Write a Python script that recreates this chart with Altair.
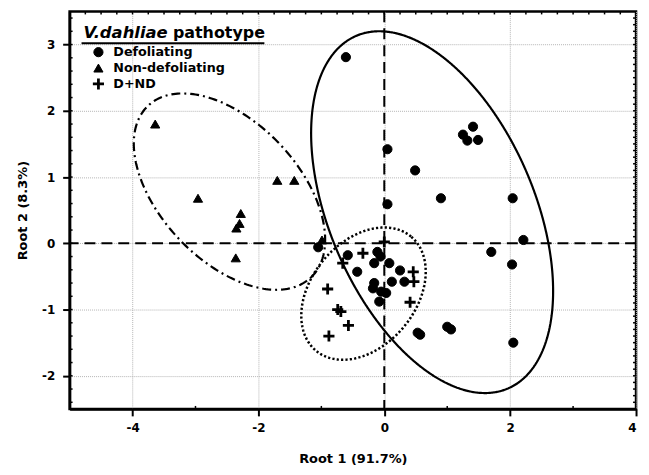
import altair as alt
import numpy as np
import pandas as pd

# ---------------- data ----------------
groups = ["Defoliating", "Non-defoliating", "D+ND"]

def_x = [-0.61, 0.05, 0.49, 0.05, 0.90, 1.41, 1.25, 1.32, 1.49, 2.04, 2.21, 1.70, 2.03, 2.05,
         0.53, 0.57, 1.00, 1.06, -1.05, -0.58, -0.43, -0.11, -0.06, -0.16, 0.08, 0.25, 0.32,
         0.12, -0.16, -0.18, -0.05, 0.03, -0.08]
def_y = [2.81, 1.42, 1.10, 0.59, 0.68, 1.76, 1.64, 1.55, 1.56, 0.68, 0.05, -0.13, -0.32, -1.50,
         -1.35, -1.38, -1.26, -1.30, -0.06, -0.18, -0.43, -0.13, -0.20, -0.30, -0.30, -0.41, -0.58,
         -0.58, -0.60, -0.68, -0.73, -0.75, -0.88]

nd_x = [-3.64, -2.96, -2.28, -2.30, -2.35, -2.36, -1.70, -1.43, -0.99]
nd_y = [1.80, 0.68, 0.45, 0.30, 0.23, -0.22, 0.95, 0.95, 0.05]

dnd_x = [0.00, -0.34, -0.66, 0.46, 0.47, 0.41, -0.90, -0.74, -0.69, -0.57, -0.88]
dnd_y = [0.02, -0.15, -0.30, -0.43, -0.58, -0.89, -0.69, -1.00, -1.03, -1.24, -1.40]

# confidence ellipses: centre x, centre y, semi-major, semi-minor, angle (deg)
ell_def = [0.76, 0.47, 3.05, 1.63, -66.7]
ell_nd = [-2.46, 0.78, 1.88, 1.10, -46.5]
ell_dnd = [-0.33, -0.76, 1.18, 0.83, 50.2]

x_ticks_major = [-4, -2, 0, 2, 4]
y_ticks_major = [-2, -1, 0, 1, 2, 3]
x_minor = [-3, -1, 1, 3]
y_minor = [round(v, 1) for v in np.arange(-2.4, 3.41, 0.2)]
x_top = [round(v, 2) for v in np.arange(-4.75, 4.0, 0.25)]
y_right = [round(v, 1) for v in np.arange(-2.4, 3.41, 0.1)]

X_DOMAIN = [-5, 4]
Y_DOMAIN = [-2.5, 3.5]
W, H = 570, 400

# ---------------- tables ----------------
solid = pd.concat([
    pd.DataFrame({"x": def_x, "y": def_y, "g": groups[0]}),
    pd.DataFrame({"x": nd_x, "y": nd_y, "g": groups[1]}),
], ignore_index=True)
plus = pd.DataFrame({"x": dnd_x, "y": dnd_y, "g": groups[2]})

K = (W / (X_DOMAIN[1] - X_DOMAIN[0])) / (H / (Y_DOMAIN[1] - Y_DOMAIN[0]))


def ellipse_df(p, n=241):
    cx, cy, a, b, ang = p
    t = np.linspace(0, 2 * np.pi, n)
    A = np.deg2rad(ang)
    x = cx + a * np.cos(t) * np.cos(A) - b * np.sin(t) * np.sin(A)
    y = cy + (a * np.cos(t) * np.sin(A) + b * np.sin(t) * np.cos(A)) * K
    return pd.DataFrame({"x": x, "y": y, "i": np.arange(n)})


xs = alt.Scale(domain=X_DOMAIN, nice=False, zero=False)
ys = alt.Scale(domain=Y_DOMAIN, nice=False, zero=False)

FONT = "DejaVu Sans"
PLUS = "M-1.4,0H1.4M0,-1.4V1.4"
LBL = "datum.value < 0 ? '-' + abs(datum.value) : '' + datum.value"
SYM_SIZE = 85
PLUS_SIZE = 64

x_axis = alt.Axis(values=x_ticks_major, title="Root 1 (91.7%)", tickSize=7, labelPadding=7,
                  titlePadding=19, grid=True, labelExpr=LBL)
y_axis = alt.Axis(values=y_ticks_major, title="Root 2 (8.3%)", tickSize=7, labelPadding=8,
                  titlePadding=12, grid=True, labelExpr=LBL)

pts_solid = alt.Chart(solid).mark_point(
    filled=True, fill="black", stroke="black", strokeWidth=1, opacity=1, size=SYM_SIZE
).encode(
    x=alt.X("x:Q", scale=xs, axis=x_axis),
    y=alt.Y("y:Q", scale=ys, axis=y_axis),
    shape=alt.Shape("g:N", scale=alt.Scale(domain=groups[:2], range=["circle", "triangle-up"]),
                    legend=None),
)
pts_plus = alt.Chart(plus).mark_point(
    shape=PLUS, filled=False, stroke="black", strokeWidth=2.8, opacity=1, size=PLUS_SIZE
).encode(x=alt.X("x:Q", scale=xs), y=alt.Y("y:Q", scale=ys))


def ell_layer(p, dash, width):
    return alt.Chart(ellipse_df(p)).mark_line(
        color="black", strokeWidth=width, strokeDash=dash, clip=True
    ).encode(x=alt.X("x:Q", scale=xs), y=alt.Y("y:Q", scale=ys), order="i:Q")


e1 = ell_layer(ell_def, [1, 0], 2.2)
e2 = ell_layer(ell_nd, [9, 4, 2, 4], 2.2)
e3 = ell_layer(ell_dnd, [2.2, 2.2], 2.5)

vline = alt.Chart(pd.DataFrame({"x": [0]})).mark_rule(
    color="black", strokeWidth=2, strokeDash=[11, 6]).encode(x=alt.X("x:Q", scale=xs))
hline = alt.Chart(pd.DataFrame({"y": [0]})).mark_rule(
    color="black", strokeWidth=2, strokeDash=[11, 6]).encode(y=alt.Y("y:Q", scale=ys))

# minor / mirror ticks
bt = alt.Chart(pd.DataFrame({"x": x_minor})).mark_rule(color="black", strokeWidth=1.5).encode(
    x=alt.X("x:Q", scale=xs), y=alt.value(H), y2=alt.value(H - 3))
lt = alt.Chart(pd.DataFrame({"y": y_minor})).mark_rule(color="black", strokeWidth=1.5).encode(
    y=alt.Y("y:Q", scale=ys), x=alt.value(0), x2=alt.value(3))
tt = alt.Chart(pd.DataFrame({"x": x_top})).mark_rule(color="black", strokeWidth=1.5).encode(
    x=alt.X("x:Q", scale=xs), y=alt.value(0), y2=alt.value(3))
rt = alt.Chart(pd.DataFrame({"y": y_right})).mark_rule(color="black", strokeWidth=1.5).encode(
    y=alt.Y("y:Q", scale=ys), x=alt.value(W), x2=alt.value(W - 3))

# legend (drawn inside the plot, top-left)
LX, LY0, LDY = 29, 41, 16
leg_layers = []
for i, (g, shp) in enumerate(zip(groups, ["circle", "triangle-up", PLUS])):
    if shp == PLUS:
        sym = alt.Chart(pd.DataFrame({"g": [g]})).mark_point(
            shape=shp, filled=False, stroke="black", strokeWidth=2.8, size=PLUS_SIZE, opacity=1)
    else:
        sym = alt.Chart(pd.DataFrame({"g": [g]})).mark_point(
            shape=shp, filled=True, fill="black", stroke="black", strokeWidth=1, size=SYM_SIZE,
            opacity=1)
    sym = sym.encode(x=alt.value(LX), y=alt.value(LY0 + i * LDY))
    txt = alt.Chart(pd.DataFrame({"g": [g]})).mark_text(
        font=FONT, fontSize=12.8, fontWeight="bold", align="left", baseline="middle",
        color="black").encode(text="g:N", x=alt.value(LX + 15), y=alt.value(LY0 + i * LDY))
    leg_layers += [sym, txt]

t1 = alt.Chart(pd.DataFrame({"t": ["V.dahliae"]})).mark_text(
    font=FONT, fontSize=16.5, fontWeight="bold", fontStyle="italic", align="left",
    baseline="alphabetic", color="black").encode(text="t:N", x=alt.value(14), y=alt.value(27))
t2 = alt.Chart(pd.DataFrame({"t": ["pathotype"]})).mark_text(
    font=FONT, fontSize=16, fontWeight="bold", align="left",
    baseline="alphabetic", color="black").encode(text="t:N", x=alt.value(104), y=alt.value(27))
ul = alt.Chart(pd.DataFrame({"a": [0]})).mark_rule(color="black", strokeWidth=2).encode(
    x=alt.value(12), x2=alt.value(196), y=alt.value(32))

chart = alt.layer(
    vline, hline, e1, e2, e3, bt, lt, tt, rt, pts_solid, pts_plus, t1, t2, ul, *leg_layers
).properties(
    width=W, height=H,
    autosize=alt.AutoSizeParams(type="none"),
    padding={"left": 62, "top": 2, "right": 5, "bottom": 57},
    background="white",
).configure_view(
    stroke="black", strokeWidth=2.5
).configure_axis(
    domainColor="black", domainWidth=2.5, tickColor="black", tickWidth=2,
    labelFont=FONT, labelFontWeight="bold", labelFontSize=12, labelColor="black",
    titleFont=FONT, titleFontWeight="bold", titleFontSize=13, titleColor="black",
    gridColor="#b4b4b4", gridDash=[1, 1], gridWidth=1,
)

chart.save("out.html", embed_options={"renderer": "svg", "actions": False})
